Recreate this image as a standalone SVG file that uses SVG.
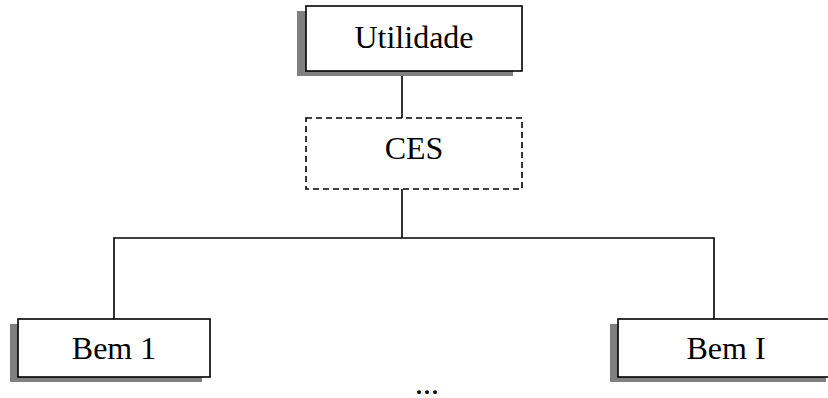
<svg xmlns="http://www.w3.org/2000/svg" width="828" height="398" viewBox="0 0 828 398">
<style>
.shadow{fill:#808080;stroke:none}
.box{fill:#fff;stroke:#000;stroke-width:1.6}
.dash{fill:#fff;stroke:#000;stroke-width:1.6;stroke-dasharray:6 4}
.lbl{font-family:"Liberation Serif","Times New Roman",serif;font-size:32px;fill:#000;text-anchor:middle}
.conn{stroke:#000;stroke-width:1.6;fill:none}
</style>
<rect width="828" height="398" fill="#fff"/>
<g id="connectors">
<line class="conn" x1="402" y1="71" x2="402" y2="118"/>
<line class="conn" x1="402" y1="189" x2="402" y2="238"/>
<polyline class="conn" points="114,319 114,238 714,238 714,319"/>
</g>
<g id="utilidade">
<rect class="shadow" x="297" y="11" width="216" height="65"/>
<rect class="box" x="306" y="6" width="216" height="65"/>
<text class="lbl" x="414" y="48">Utilidade</text>
</g>
<g id="ces">
<rect class="dash" x="306" y="118" width="216" height="71"/>
<text class="lbl" x="414" y="159">CES</text>
</g>
<g id="bem1">
<rect class="shadow" x="10" y="324" width="192" height="58"/>
<rect class="box" x="18" y="319" width="192" height="58"/>
<text class="lbl" x="114" y="359">Bem 1</text>
</g>
<g id="bemI">
<rect class="shadow" x="610" y="324" width="216" height="58"/>
<rect class="box" x="618" y="319" width="216" height="58"/>
<text class="lbl" x="726" y="359">Bem I</text>
</g>
<g id="ellipsis">
<text class="lbl" x="427" y="394">...</text>
</g>
</svg>
